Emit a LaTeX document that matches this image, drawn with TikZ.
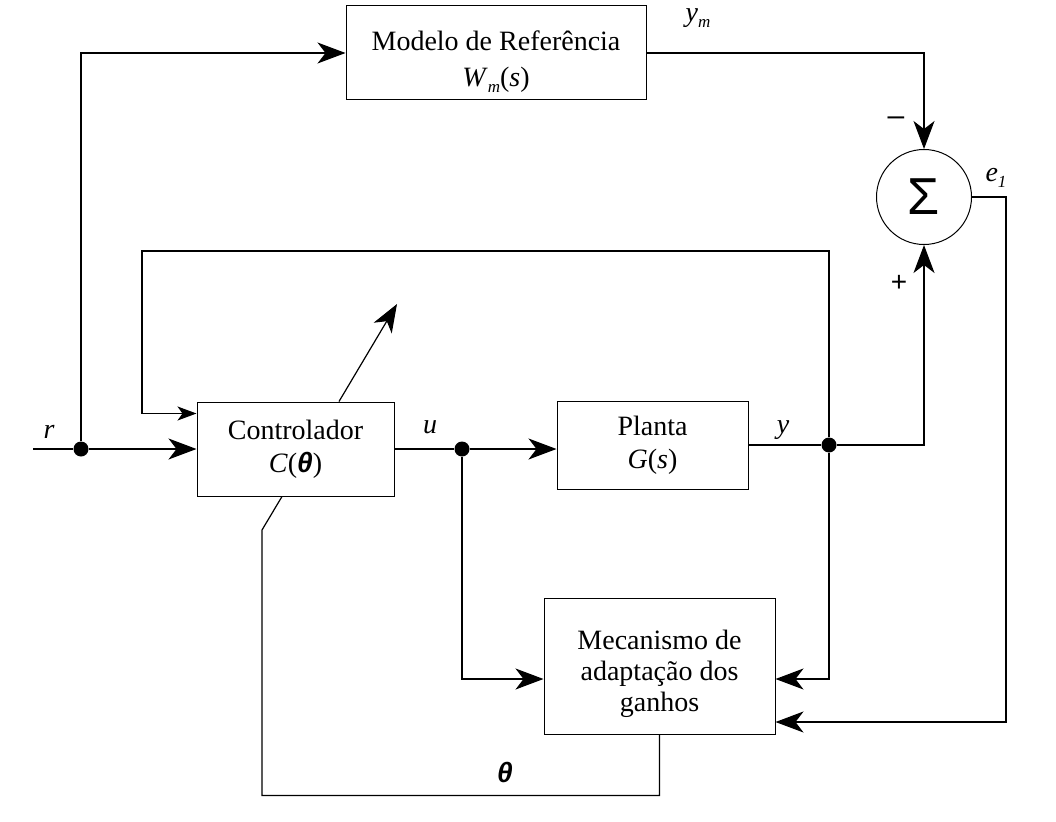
\documentclass[tikz,border=0pt]{standalone}
\usepackage{fontspec}
\setmainfont{Liberation Serif}
\newfontfamily\sansf{Liberation Sans}
\usetikzlibrary{arrows.meta,calc}
\newcommand\subsc[1]{\raisebox{-0.5ex}{\fontsize{17}{17}\selectfont\itshape #1}}
\newcommand\thetab{{\sansf\bfseries\itshape θ}}
\begin{document}
\begin{tikzpicture}[x=1pt,y=-1pt,
  every node/.style={font=\fontsize{28}{33}\selectfont},
  blk/.style={draw, line width=1pt, inner sep=0pt, align=center},
  wire/.style={line width=1.2pt},
  arr/.style={wire, -{Stealth[length=28pt,width=21pt,inset=8pt]}},
  arrs/.style={wire, -{Stealth[length=19pt,width=14pt,inset=5pt]}},
  dot/.style={circle, fill, inner sep=0pt, minimum size=15pt},
  lbl/.style={inner sep=0pt, font=\fontsize{28}{33}\selectfont\itshape}
]
\useasboundingbox (0,0) rectangle (1056,821);

% blocks
\node[blk, minimum width=300pt, minimum height=94pt, font=\fontsize{28}{36}\selectfont] (ref) at (496,53)
  {\rule{0pt}{37pt}Modelo de Referência\\\textit{W}\subsc{m}(\textit{s})};
\node[blk, minimum width=197pt, minimum height=94pt] (ctrl) at (295.5,449)
  {Controlador\\\textit{C}(\thetab)};
\node[blk, minimum width=191pt, minimum height=88pt] (plant) at (652.5,445)
  {Planta\\\textit{G}(\textit{s})};
\node[blk, minimum width=231pt, minimum height=136pt, font=\fontsize{28}{31}\selectfont] (mech) at (659.5,666)
  {\rule{0pt}{36pt}Mecanismo de\\adaptação dos\\ganhos};
\node[draw, circle, line width=1pt, minimum size=95pt, inner sep=0pt,
      font=\fontsize{52}{52}\selectfont\sansf] (sum) at (924,197) {Σ};

% junctions
\coordinate (rin) at (33,449);
\node[dot] (rdot) at (81,449) {};
\node[dot] (udot) at (462,449) {};
\node[dot] (ydot) at (829,445) {};
\coordinate (fbT) at (142,251);
\coordinate (ecorner) at (1006,722);
\coordinate (thL) at (262,530);
\coordinate (adjtip) at (397,304);

% connectors
\draw[wire] (rin) -- (rdot);
\draw[arr] (rdot) -- (ctrl.west);
\draw[arr] (rdot) |- (ref.west);
\draw[arr] (ref.east) -| (sum.north);
\draw[wire] (ctrl.east) -- (udot);
\draw[arr] (udot) -- (udot -| plant.west);
\draw[wire] (plant.east) -- (ydot);
\draw[arr] (ydot) -| (sum.south);
\draw[arrs] (ydot) |- (fbT) |- ($(ctrl.north west)+(0,12)$);
\draw[arr] (udot) |- ($(mech.west)+(0,13)$);
\draw[arr] (ydot) |- ($(mech.east)+(0,13)$);
\draw[arr] (sum.east) -| (ecorner) -- (ecorner -| mech.east);
\draw[wire] (mech.south) -- ++(0,61) -| (thL) -- ($(ctrl.south)+(-13.5,0)$);
\draw[arr] ($(ctrl.north)+(43.5,0)$) -- (adjtip);

% labels
\node[lbl] (lr) at (49,432) {r};
\node[lbl] (lu) at (430,427) {u};
\node[lbl] (ly) at (783,430) {y};
\node[lbl] (lym) at (698,18) {y\subsc{m}};
\node[lbl] (le) at (996,178) {e\subsc{1}};
\node[inner sep=0pt, font=\fontsize{30}{30}\selectfont\sansf] (lminus) at (896,121) {–};
\node[inner sep=0pt, font=\fontsize{28}{28}\selectfont\sansf] (lplus) at (899,283) {+};
\node[inner sep=0pt] (lth) at (505,772) {\thetab};
\end{tikzpicture}
\end{document}
